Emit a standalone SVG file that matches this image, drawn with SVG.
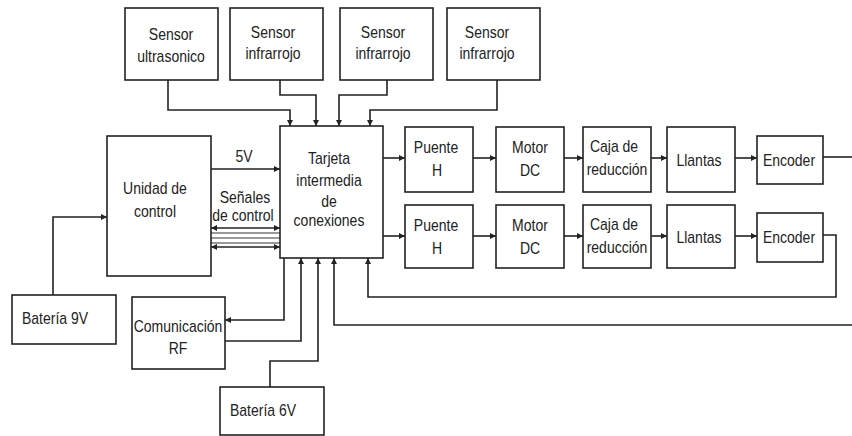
<svg xmlns="http://www.w3.org/2000/svg" width="852" height="436" viewBox="0 0 852 436">
<style>
.box{fill:#fff;stroke:#222;stroke-width:1.6}
.t{font-family:"Liberation Sans",Arial,sans-serif;font-size:14px;fill:#222;text-anchor:middle}
.tl{font-family:"Liberation Sans",Arial,sans-serif;font-size:14px;fill:#222}
.c{fill:none;stroke:#222;stroke-width:1.6}
.g{fill:none;stroke:#999;stroke-width:2}
</style>
<defs>
<marker id="ar" markerWidth="6" markerHeight="6" refX="6" refY="3" orient="auto-start-reverse" markerUnits="userSpaceOnUse">
<path d="M0,0 L6,3 L0,6 z" fill="#222"/>
</marker>
</defs>
<rect width="852" height="436" fill="#fff"/>
<g id="connectors">
<path class="c" d="M168,80 V110 H290 V126" marker-end="url(#ar)"/>
<path class="c" d="M280,80 V95 H316 V126" marker-end="url(#ar)"/>
<path class="c" d="M387,80 V95 H339 V126" marker-end="url(#ar)"/>
<path class="c" d="M497,80 V110 H370 V126" marker-end="url(#ar)"/>
<path class="c" d="M211,169 H280" marker-end="url(#ar)"/>
<path class="c" d="M211,228 H280" marker-start="url(#ar)" marker-end="url(#ar)"/>
<path class="g" d="M211,233 H280 M211,238 H280 M211,243 H280"/>
<path class="c" d="M211,247 H280" marker-start="url(#ar)" marker-end="url(#ar)"/>
<path class="c" d="M53,295 V217 H107" marker-end="url(#ar)"/>
<path class="c" d="M383,158 H405" marker-end="url(#ar)"/>
<path class="c" d="M473,158 H496" marker-end="url(#ar)"/>
<path class="c" d="M564,158 H583" marker-end="url(#ar)"/>
<path class="c" d="M651,158 H667" marker-end="url(#ar)"/>
<path class="c" d="M735,158 H757" marker-end="url(#ar)"/>
<path class="c" d="M823,157 H852"/>
<path class="c" d="M383,236 H405" marker-end="url(#ar)"/>
<path class="c" d="M473,236 H496" marker-end="url(#ar)"/>
<path class="c" d="M564,236 H583" marker-end="url(#ar)"/>
<path class="c" d="M651,236 H667" marker-end="url(#ar)"/>
<path class="c" d="M735,236 H757" marker-end="url(#ar)"/>
<path class="c" d="M823,235 H836 V297 H368 V258" marker-end="url(#ar)"/>
<path class="c" d="M852,325 H334 V258" marker-end="url(#ar)"/>
<path class="c" d="M284,258 V320 H225" marker-end="url(#ar)"/>
<path class="c" d="M225,341 H301 V258" marker-end="url(#ar)"/>
<path class="c" d="M270,387 V361 H318 V258" marker-end="url(#ar)"/>
</g>
<g id="sensor-ultrasonico">
<rect class="box" x="125" y="8" width="93" height="72"/>
<text class="t" transform="translate(171,40) scale(1,1.2)">Sensor</text>
<text class="t" transform="translate(171,62) scale(1,1.2)">ultrasonico</text>
</g>
<g id="sensor-infrarrojo-1">
<rect class="box" x="230" y="8" width="93" height="72"/>
<text class="t" transform="translate(273,38) scale(1,1.2)">Sensor</text>
<text class="t" transform="translate(273,59) scale(1,1.2)">infrarrojo</text>
</g>
<g id="sensor-infrarrojo-2">
<rect class="box" x="340" y="8" width="93" height="72"/>
<text class="t" transform="translate(383,38) scale(1,1.2)">Sensor</text>
<text class="t" transform="translate(383,59) scale(1,1.2)">infrarrojo</text>
</g>
<g id="sensor-infrarrojo-3">
<rect class="box" x="447" y="8" width="93" height="72"/>
<text class="t" transform="translate(487,38) scale(1,1.2)">Sensor</text>
<text class="t" transform="translate(487,59) scale(1,1.2)">infrarrojo</text>
</g>
<g id="unidad-control">
<rect class="box" x="107" y="136" width="104" height="140"/>
<text class="t" transform="translate(155,194) scale(1,1.2)">Unidad de</text>
<text class="t" transform="translate(155,217) scale(1,1.2)">control</text>
</g>
<g id="labels">
<text class="t" transform="translate(244,162) scale(1,1.2)">5V</text>
<text class="t" transform="translate(245,203) scale(1,1.2)">Señales</text>
<text class="t" transform="translate(243,221) scale(1,1.2)">de control</text>
</g>
<g id="tarjeta">
<rect class="box" x="280" y="126" width="103" height="132"/>
<text class="t" transform="translate(329,164) scale(1,1.2)">Tarjeta</text>
<text class="t" transform="translate(329,186) scale(1,1.2)">intermedia</text>
<text class="t" transform="translate(329,207) scale(1,1.2)">de</text>
<text class="t" transform="translate(329,226) scale(1,1.2)">conexiones</text>
</g>
<g id="puente-h-1">
<rect class="box" x="405" y="127" width="68" height="65"/>
<text class="t" transform="translate(436,153) scale(1,1.2)">Puente</text>
<text class="t" transform="translate(437,176) scale(1,1.2)">H</text>
</g>
<g id="motor-dc-1">
<rect class="box" x="496" y="127" width="68" height="65"/>
<text class="t" transform="translate(530,153) scale(1,1.2)">Motor</text>
<text class="t" transform="translate(530,176) scale(1,1.2)">DC</text>
</g>
<g id="caja-1">
<rect class="box" x="583" y="127" width="68" height="65"/>
<text class="t" transform="translate(614,152) scale(1,1.2)">Caja de</text>
<text class="t" transform="translate(617,175) scale(1,1.2)">reducción</text>
</g>
<g id="llantas-1">
<rect class="box" x="667" y="127" width="68" height="65"/>
<text class="t" transform="translate(699,166) scale(1,1.2)">Llantas</text>
</g>
<g id="encoder-1">
<rect class="box" x="757" y="136" width="66" height="48"/>
<text class="t" transform="translate(789,166) scale(1,1.2)">Encoder</text>
</g>
<g id="puente-h-2">
<rect class="box" x="405" y="205" width="68" height="63"/>
<text class="t" transform="translate(436,231) scale(1,1.2)">Puente</text>
<text class="t" transform="translate(437,254) scale(1,1.2)">H</text>
</g>
<g id="motor-dc-2">
<rect class="box" x="496" y="205" width="68" height="63"/>
<text class="t" transform="translate(530,231) scale(1,1.2)">Motor</text>
<text class="t" transform="translate(530,254) scale(1,1.2)">DC</text>
</g>
<g id="caja-2">
<rect class="box" x="583" y="205" width="68" height="63"/>
<text class="t" transform="translate(614,230) scale(1,1.2)">Caja de</text>
<text class="t" transform="translate(617,253) scale(1,1.2)">reducción</text>
</g>
<g id="llantas-2">
<rect class="box" x="667" y="205" width="68" height="63"/>
<text class="t" transform="translate(699,243) scale(1,1.2)">Llantas</text>
</g>
<g id="encoder-2">
<rect class="box" x="757" y="213" width="66" height="49"/>
<text class="t" transform="translate(789,243) scale(1,1.2)">Encoder</text>
</g>
<g id="bateria-9v">
<rect class="box" x="12" y="295" width="104" height="49"/>
<text class="tl" transform="translate(22,324) scale(1,1.2)">Batería 9V</text>
</g>
<g id="comunicacion-rf">
<rect class="box" x="132" y="297" width="93" height="72"/>
<text class="t" transform="translate(178,332) scale(1,1.2)">Comunicación</text>
<text class="t" transform="translate(178,354) scale(1,1.2)">RF</text>
</g>
<g id="bateria-6v">
<rect class="box" x="220" y="387" width="104" height="48"/>
<text class="tl" transform="translate(230,416) scale(1,1.2)">Batería 6V</text>
</g>
</svg>
